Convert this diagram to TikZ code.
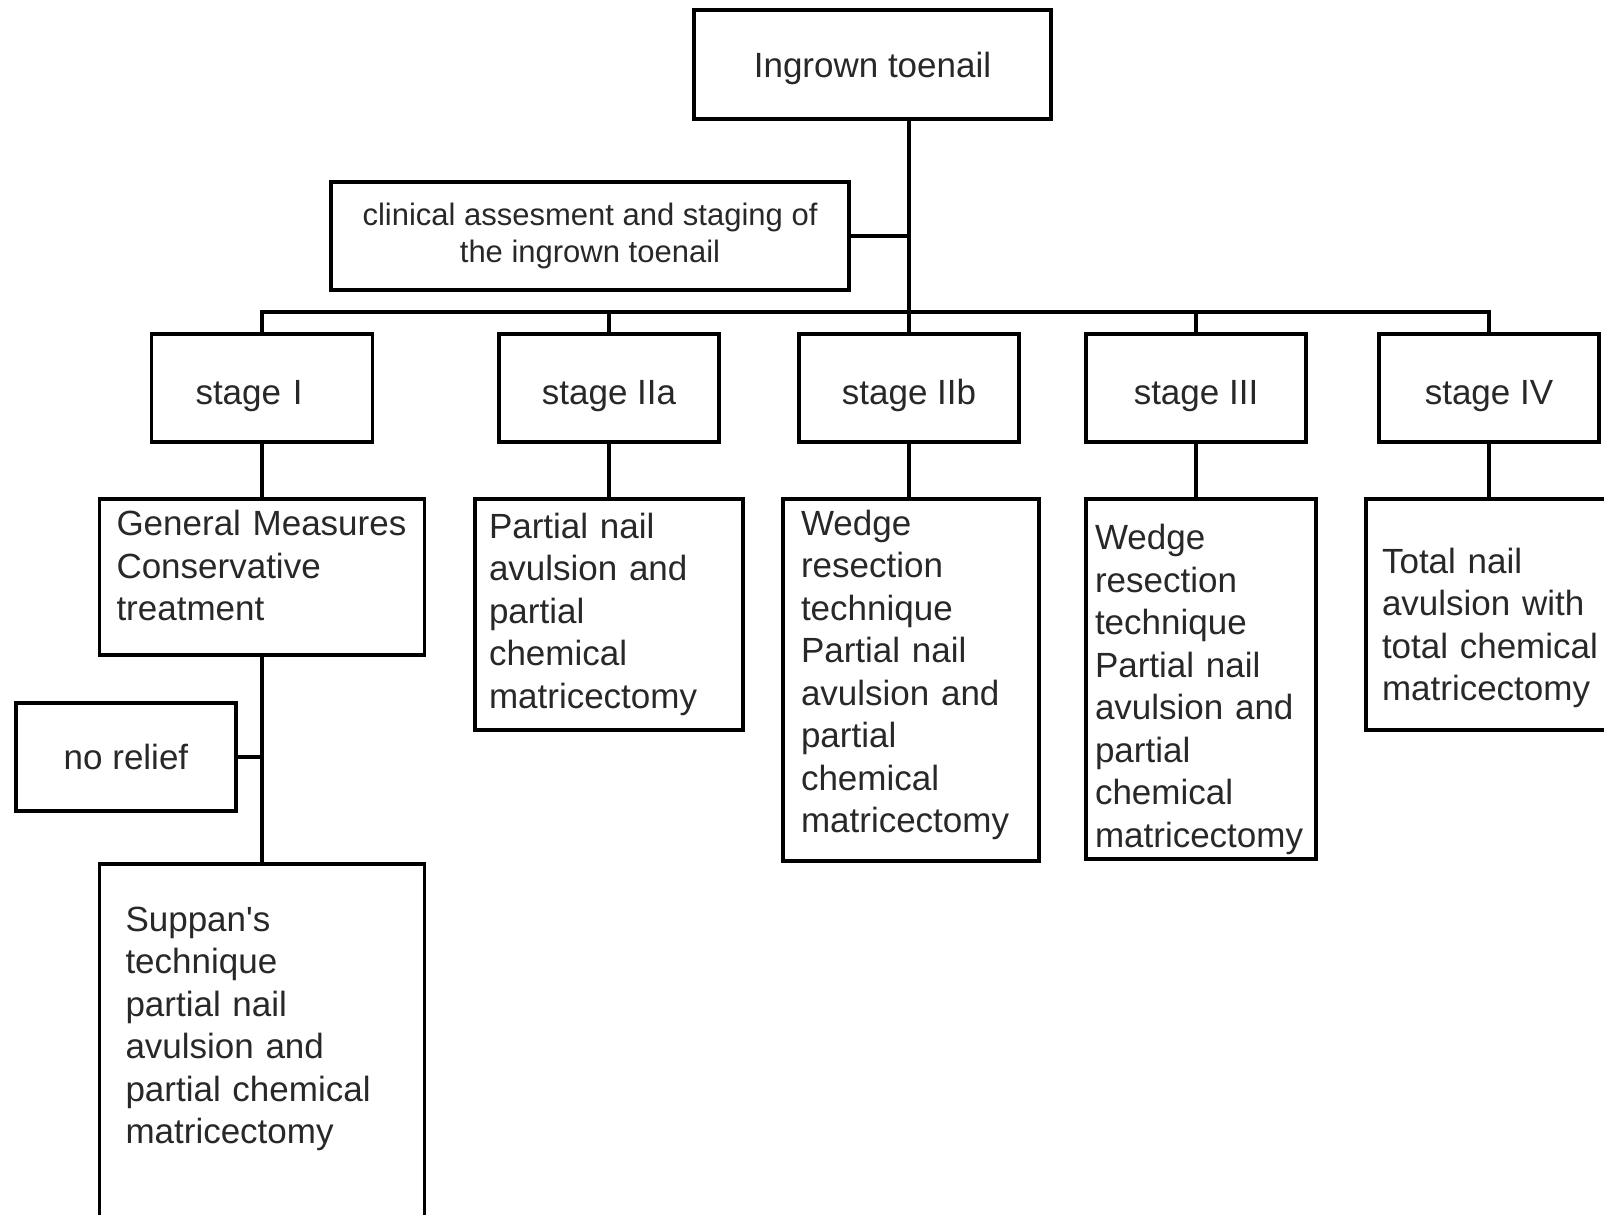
\documentclass[tikz,border=0pt]{standalone}
\usepackage{fontspec}
\setmainfont{Liberation Sans}
\definecolor{txtgray}{RGB}{40,40,40}
\begin{document}
\begin{tikzpicture}[x=1pt,y=-1pt,
    box/.style={draw, line width=3.5pt, inner sep=0pt, text=txtgray, font={\fontsize{35}{42.5}\selectfont\hyphenpenalty=10000}},
    stagebox/.style={box, minimum width=220pt, minimum height=108pt, text height=32pt, text depth=0pt},
    treatbox/.style={box, align=left, anchor=north},
    link/.style={line width=3.5pt}]
  \useasboundingbox (0,0) rectangle (1604,1215);
  \clip (0,0) rectangle (1604,1215);
  \node [box, minimum width=357pt, minimum height=109pt, text depth=0pt] (toenail) at (872.5,64.5) {Ingrown toenail};
  \node [box, align=center, minimum width=518pt, minimum height=108pt, font=\fontsize{31}{37}\selectfont] (clinical) at (590,236) {clinical assesment and staging of\\the ingrown toenail};
  \coordinate (hub) at (909,312);
  \node [stagebox, align=left, text width=133pt, inner xsep=44pt] (stage1) at (262,388) {stage I};
  \node [stagebox] (stage2a) at (609,388) {stage IIa};
  \node [stagebox] (stage2b) at (909,388) {stage IIb};
  \node [stagebox] (stage3) at (1196,388) {stage III};
  \node [stagebox] (stage4) at (1489,388) {stage IV};
  \node [treatbox, text width=291pt, inner xsep=17pt, inner ysep=11.5pt, text depth=108pt] (general) at (262,497) {General~Measures\\Conservative\\treatment};
  \node [treatbox, text width=240pt, inner xsep=14pt, inner ysep=14.3pt, text depth=177.4pt] (treat2a) at (609,497) {Partial~nail\\avulsion~and\\partial\\chemical\\matricectomy};
  \node [treatbox, text width=220pt, inner xsep=18pt, inner ysep=11.2pt, text depth=314.6pt] (treat2b) at (911,497) {Wedge\\resection\\technique\\Partial~nail\\avulsion~and\\partial\\chemical\\matricectomy};
  \node [treatbox, text width=212pt, inner xsep=9pt, inner ysep=25.5pt, text depth=284pt] (treat3) at (1201,497) {Wedge\\resection\\technique\\Partial~nail\\avulsion~and\\partial\\chemical\\matricectomy};
  \node [treatbox, text width=214pt, inner xsep=16pt, inner ysep=49.1pt, text depth=107.8pt] (treat4) at (1489,497) {Total~nail\\avulsion~with\\total~chemical\\matricectomy};
  \node [box, minimum width=220pt, minimum height=108pt] (norelief) at (126,757) {no relief};
  \node [treatbox, text width=273pt, inner xsep=26pt, inner ysep=43.2pt, text depth=286.6pt] (suppan) at (262,862) {Suppan\textquotesingle s\\technique\\partial~nail\\avulsion~and\\partial~chemical\\matricectomy};
  \draw [link] (toenail.south -| hub) -- (hub);
  \draw [link] (clinical.east) -- (clinical.east -| hub);
  \draw [link] (stage1.north) -- (stage1.north |- hub) -- (stage4.north |- hub) -- (stage4.north);
  \foreach \s in {stage2a,stage2b,stage3}
    \draw [link] (\s.north |- hub) -- (\s.north);
  \foreach \s/\t in {stage1/general,stage2a/treat2a,stage2b/treat2b,stage3/treat3,stage4/treat4}
    \draw [link] (\s.south) -- (\s.south |- \t.north);
  \draw [link] (general.south) -- (suppan.north);
  \draw [link] (norelief.east) -- (norelief.east -| general.south);
\end{tikzpicture}
\end{document}
